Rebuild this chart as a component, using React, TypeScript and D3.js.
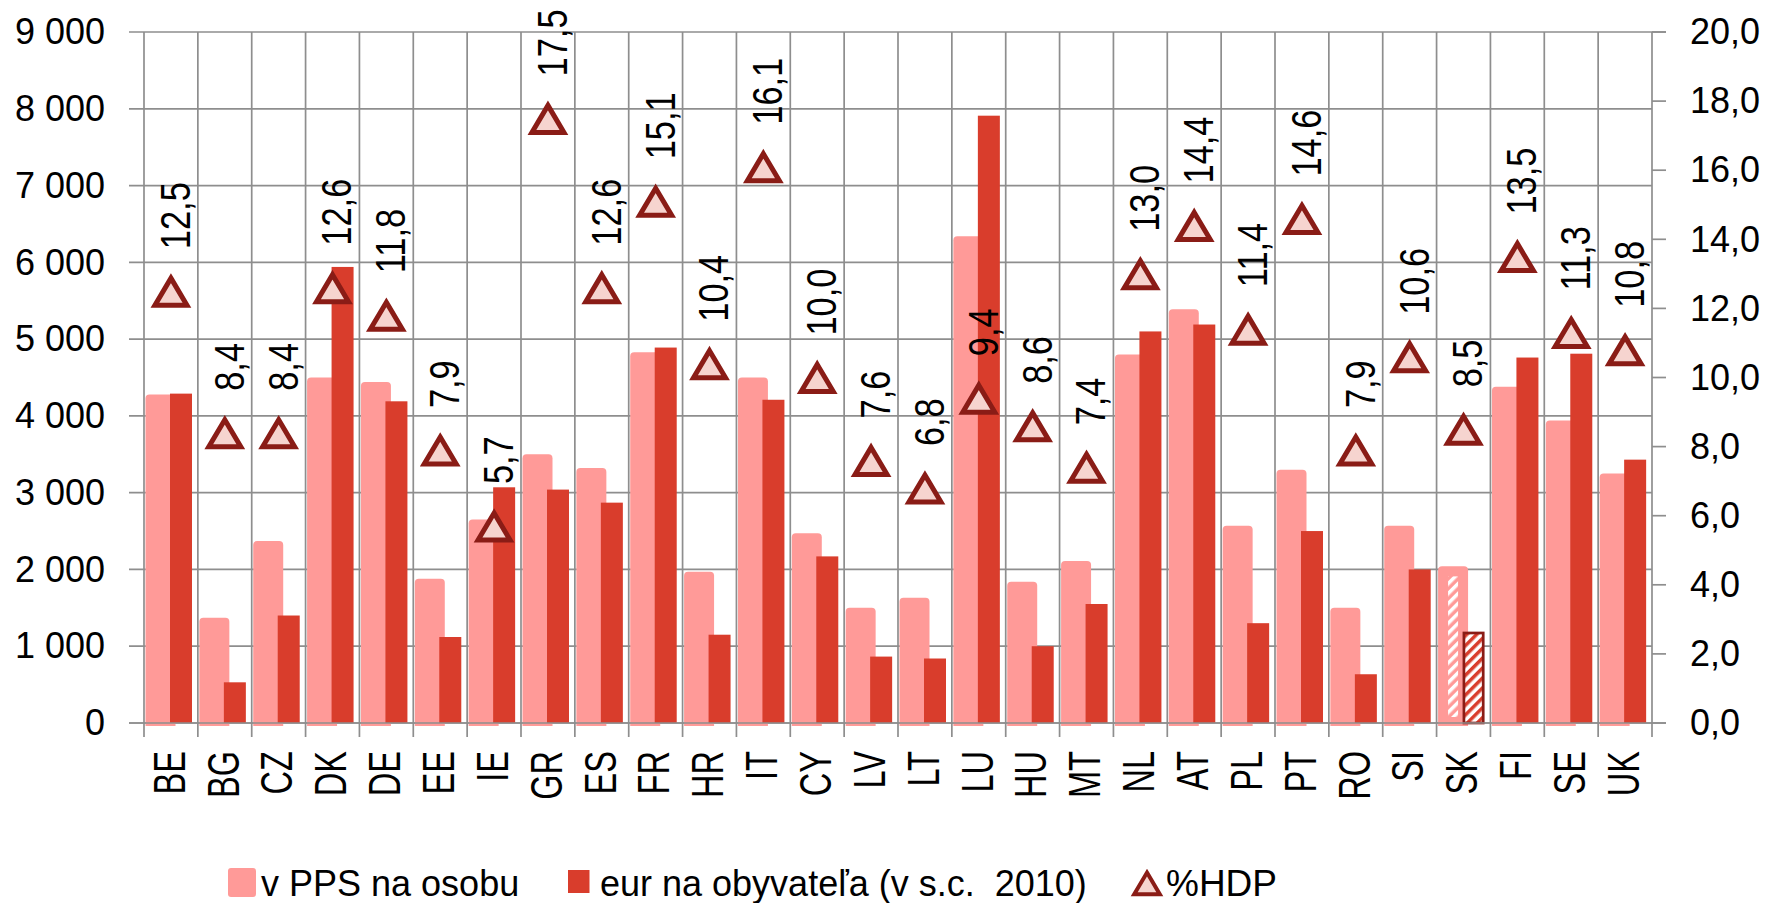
import React from 'react';
import * as d3 from 'd3';

const categories = ['BE','BG','CZ','DK','DE','EE','IE','GR','ES','FR','HR','IT','CY','LV','LT','LU','HU','MT','NL','AT','PL','PT','RO','SI','SK','FI','SE','UK'];
const ppsValues = [4280,1370,2370,4500,4440,1880,2650,3500,3320,4830,1970,4500,2470,1500,1630,6340,1840,2110,4800,5390,2570,3300,1500,2570,2040,4380,3940,3250];
const eurValues = [4290,530,1400,5940,4190,1120,3070,3040,2870,4890,1150,4210,2170,865,840,7910,1000,1550,5100,5190,1300,2500,635,2000,1190,4760,4810,3430];
const gdpShare = [12.5,8.4,8.4,12.6,11.8,7.9,5.7,17.5,12.6,15.1,10.4,16.1,10.0,7.6,6.8,9.4,8.6,7.4,13.0,14.4,11.4,14.6,7.9,10.6,8.5,13.5,11.3,10.8];
const leftTickValues = [0,1000,2000,3000,4000,5000,6000,7000,8000,9000];
const rightTickValues = [0,2,4,6,8,10,12,14,16,18,20];
const hatchedCategories = ['SK'];
const seriesNames = ['v PPS na osobu', 'eur na obyvateľa (v s.c.  2010)', '%HDP'];

const W = 1766, H = 903;
const PINK = '#FF9A98';
const RED = '#D93D2C';
const DARK = '#8A1C16';
const TRI_FILL = '#F6D4CF';
const GRID = '#8E8E8E';
const FONT = '"Liberation Sans", Arial, sans-serif';

const topRounded = (x0: number, y: number, w: number, h: number, r: number) =>
  `M${x0},${y + h} L${x0},${y + r} Q${x0},${y} ${x0 + r},${y} L${x0 + w - r},${y} Q${x0 + w},${y} ${x0 + w},${y + r} L${x0 + w},${y + h} Z`;

const triPath = (cx: number, cy: number, s = 1) =>
  `M${cx},${cy - 13 * s} L${cx + 16 * s},${cy + 14 * s} L${cx - 16 * s},${cy + 14 * s} Z`;

export default function App() {
  const x = d3.scaleBand<string>().domain(categories).range([144, 1652]);
  const yL = d3.scaleLinear().domain([0, 9000]).range([723, 32]);
  const yR = d3.scaleLinear().domain([0, 20]).range([723, 32]);
  const bw = x.bandwidth();
  const plotLeft = 129;
  const plotRight = 1652;
  const rightTickEnd = 1666;
  const y0 = yL(0);
  const fmtL = (v: number) => d3.format(',')(v).replace(',', '\u00a0');
  const fmtR = (v: number) => d3.format('.1f')(v).replace('.', ',');

  const ppsOff = 1.5, ppsW = 30;
  const eurOff = 26, eurW = 22;
  const labF = 43, labSx = 0.8, labCapHalf = 0.358 * labF;
  const catF = 44, catSx = 0.74, catCapHalf = 0.358 * catF;

  return (
    <svg width={W} height={H} style={{ position: 'absolute', left: 0, top: 0, background: '#fff' }} fontFamily={FONT}>
      <defs>
        <pattern id="hatchPink" patternUnits="userSpaceOnUse" width="7" height="7" patternTransform="rotate(45)">
          <rect width="7" height="7" fill={PINK} />
          <rect width="3.5" height="7" fill="#fff" />
        </pattern>
        <pattern id="hatchRed" patternUnits="userSpaceOnUse" width="7" height="7" patternTransform="rotate(45)">
          <rect width="7" height="7" fill="#fff" />
          <rect width="3.5" height="7" fill={RED} />
        </pattern>
      </defs>
      <rect width={W} height={H} fill="#fff" />

      {/* horizontal gridlines */}
      {leftTickValues.map(v => (
        <line key={'h' + v} x1={plotLeft} x2={v === 9000 ? rightTickEnd : plotRight} y1={yL(v)} y2={yL(v)} stroke={GRID} strokeWidth={1.7} />
      ))}
      {/* vertical gridlines */}
      {categories.map(c => (
        <line key={'v' + c} x1={x(c)!} x2={x(c)!} y1={yL(9000)} y2={y0 + 14} stroke={GRID} strokeWidth={1.7} />
      ))}
      <line x1={plotRight} x2={plotRight} y1={yL(9000)} y2={y0 + 14} stroke={GRID} strokeWidth={1.7} />
      {/* right ticks */}
      {rightTickValues.map(v => (
        <line key={'rt' + v} x1={plotRight} x2={rightTickEnd} y1={yR(v)} y2={yR(v)} stroke={GRID} strokeWidth={1.7} />
      ))}

      {/* bars */}
      {categories.map((c, i) => {
        const bx = x(c)!;
        const hatched = hatchedCategories.includes(c);
        const py = yL(ppsValues[i]);
        const ey = yL(eurValues[i]);
        return (
          <g key={'b' + c}>
            <path d={topRounded(bx + ppsOff, py, ppsW, y0 + 3 - py, 4)} fill={PINK} />
            {hatched && (
              <rect x={bx + ppsOff + 10} y={py + 10} width={ppsW - 20} height={y0 - 6 - py - 10} fill="url(#hatchPink)" />
            )}
            {hatched ? (
              <rect x={bx + eurOff + 1.35} y={ey + 1.35} width={eurW - 2.7} height={y0 - ey - 1.35} fill="url(#hatchRed)" stroke={DARK} strokeWidth={2.7} />
            ) : (
              <rect x={bx + eurOff} y={ey} width={eurW} height={y0 - ey} fill={RED} />
            )}
          </g>
        );
      })}

      {/* zero line */}
      <line x1={plotLeft} x2={rightTickEnd} y1={y0} y2={y0} stroke={GRID} strokeWidth={1.7} />

      {/* triangles */}
      {categories.map((c, i) => {
        const cx = x(c)! + bw / 2;
        return (
          <path key={'t' + c} d={triPath(cx, yR(gdpShare[i]))} fill={TRI_FILL} stroke={DARK} strokeWidth={5} strokeLinejoin="miter" />
        );
      })}

      {/* data labels */}
      {categories.map((c, i) => {
        const cx = x(c)! + bw / 2;
        const ty = yR(gdpShare[i]) - 42;
        return (
          <text key={'l' + c} transform={`translate(${cx + 3.5 + labCapHalf},${ty}) rotate(-90) scale(${labSx},1)`} fontSize={labF} textAnchor="start" fill="#000">
            {fmtR(gdpShare[i])}
          </text>
        );
      })}

      {/* category labels */}
      {categories.map(c => {
        const cx = x(c)! + bw / 2;
        return (
          <text key={'c' + c} transform={`translate(${cx - 2 + catCapHalf},751) rotate(-90) scale(${catSx},1)`} fontSize={catF} textAnchor="end" fill="#000">
            {c}
          </text>
        );
      })}

      {/* left axis labels */}
      {leftTickValues.map(v => (
        <text key={'ll' + v} x={105} y={yL(v)} dy="0.34em" fontSize={36} textAnchor="end" fill="#000">{fmtL(v)}</text>
      ))}
      {/* right axis labels */}
      {rightTickValues.map(v => (
        <text key={'rl' + v} x={1690} y={yR(v)} dy="0.34em" fontSize={36} textAnchor="start" fill="#000">{fmtR(v)}</text>
      ))}

      {/* legend */}
      <g>
        <rect x={228} y={868} width={28} height={29} rx={3} fill={PINK} />
        <text x={261} y={896} fontSize={36} fill="#000">{seriesNames[0]}</text>
        <rect x={568} y={870} width={21.5} height={23} fill={RED} />
        <text x={600} y={896} fontSize={36} fill="#000" style={{ whiteSpace: 'pre' }}>{seriesNames[1]}</text>
        <path d={triPath(1147, 883, 0.8)} fill={TRI_FILL} stroke={DARK} strokeWidth={4} />
        <text x={1166} y={896} fontSize={37} fill="#000">{seriesNames[2]}</text>
      </g>
    </svg>
  );
}
